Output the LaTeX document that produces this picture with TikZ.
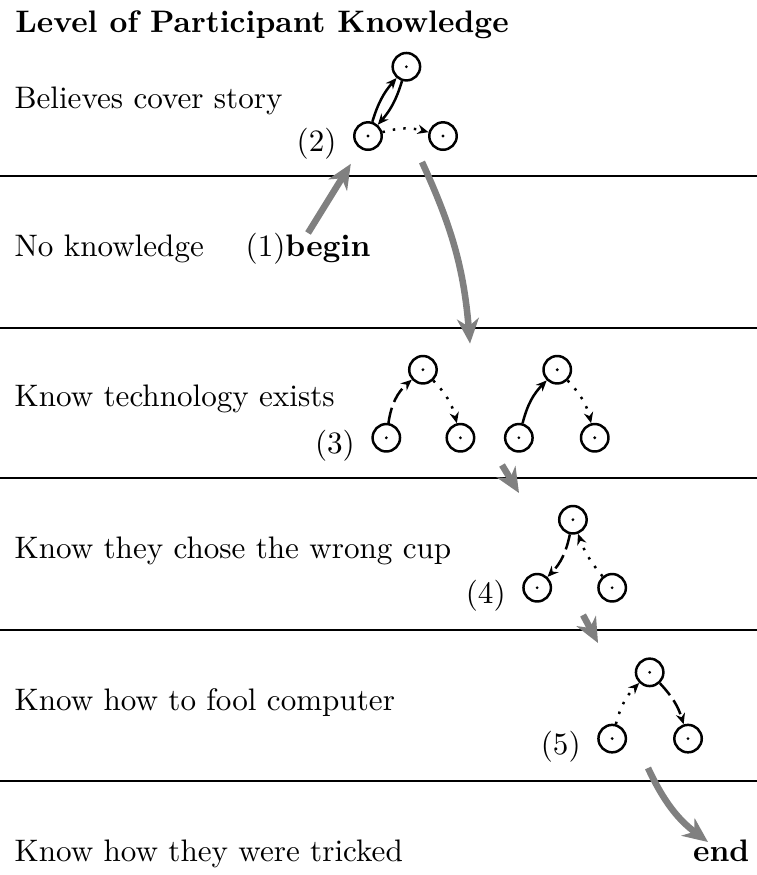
\documentclass[tikz,border=0pt]{standalone}
\usepackage{tikz}
\usetikzlibrary{positioning,arrows.meta}

\begin{document}
\begin{tikzpicture}[
    scale=0.985,
    state/.style={circle, draw, thick, minimum size=0.31cm, inner sep=0pt,
                  path picture={\fill (path picture bounding box.center) circle (0.5pt);}},
    lvl/.style={anchor=base west, inner sep=0pt},
    tag/.style={inner sep=0pt, yshift=-0.09cm},
    sep/.style={semithick},
    arr/.style={-{Stealth[length=3.5pt, width=3pt]}, thick},
    dotarr/.style={arr, dash pattern=on 0.8pt off 2.6pt},
    dasharr/.style={arr, dash pattern=on 5pt off 2pt},
    flow/.style={-{Stealth[length=8pt, width=7pt, inset=2.5pt]}, line width=2.1pt, color=gray}
]
\useasboundingbox (0,0) rectangle (8.68,-10.034);

% Title and knowledge levels
\node[lvl, font=\bfseries] (title) at (0.17,-0.378) {Level of Participant Knowledge};
\node[lvl] (believes)   at (0.16,-1.239) {Believes cover story};
\node[lvl] (noknow)     at (0.16,-2.947) {No knowledge};
\node[lvl] (techexists) at (0.16,-4.667) {Know technology exists};
\node[lvl] (wrongcup)   at (0.16,-6.399) {Know they chose the wrong cup};
\node[lvl] (foolcomp)   at (0.16,-8.142) {Know how to fool computer};
\node[lvl] (tricked)    at (0.16,-9.874) {Know how they were tricked};

% Separators between levels
\draw[sep] (0,-2.018) -- (8.68,-2.018);
\draw[sep] (0,-3.761) -- (8.68,-3.761);
\draw[sep] (0,-5.482) -- (8.68,-5.482);
\draw[sep] (0,-7.225) -- (8.68,-7.225);
\draw[sep] (0,-8.956) -- (8.68,-8.956);

% Start and finish
\node[lvl] (begin) at (2.81,-2.947) {(1)\textbf{begin}};
\node[lvl, anchor=base east] (finish) at (8.60,-9.874) {\textbf{end}};

% (2) cover story
\node[state] (l2t) at (4.66,-0.765) {};
\node[state] (l2a) at (4.22,-1.56) {};
\node[state] (l2b) at (5.08,-1.56) {};
\node[tag, left=0.18cm of l2a] {(2)};
\draw[arr] (l2a) to[bend left=12] (l2t);
\draw[arr] (l2t) to[bend left=12] (l2a);
\draw[dotarr] (l2a) to[bend left=15] (l2b);

% (3) technology exists
\node[state] (l3t) at (4.85,-4.24) {};
\node[state] (l3a) at (4.43,-5.02) {};
\node[state] (l3b) at (5.28,-5.02) {};
\node[state] (l3u) at (6.39,-4.24) {};
\node[state] (l3c) at (5.95,-5.02) {};
\node[state] (l3d) at (6.82,-5.02) {};
\node[tag, left=0.18cm of l3a] {(3)};
\draw[dasharr] (l3a) to[bend left=20] (l3t);
\draw[dotarr] (l3t) to[bend left=15] (l3b);
\draw[arr] (l3c) to[bend left=15] (l3u);
\draw[dotarr] (l3u) to[bend left=15] (l3d);

% (4) wrong cup
\node[state] (l4t) at (6.57,-5.96) {};
\node[state] (l4a) at (6.16,-6.74) {};
\node[state] (l4b) at (7.02,-6.74) {};
\node[tag, left=0.18cm of l4a] {(4)};
\draw[dasharr] (l4t) to[bend left=16] (l4a);
\draw[dotarr] (l4b) to[bend left=10] (l4t);

% (5) fool computer
\node[state] (l5t) at (7.45,-7.71) {};
\node[state] (l5a) at (7.02,-8.47) {};
\node[state] (l5b) at (7.89,-8.47) {};
\node[tag, left=0.18cm of l5a] {(5)};
\draw[dotarr] (l5a) to[bend left=15] (l5t);
\draw[dasharr] (l5t) to[bend left=13] (l5b);

% Progress arrows
\coordinate (d2s) at (4.839,-1.858);
\coordinate (d2e) at (5.39,-3.94);
\coordinate (d3s) at (5.757,-5.333);
\coordinate (d3e) at (5.952,-5.654);
\coordinate (d4s) at (6.686,-7.053);
\coordinate (d4e) at (6.858,-7.374);
\coordinate (d5s) at (7.431,-8.807);
\coordinate (d5e) at (8.119,-9.656);
\draw[flow, shorten >=0.2cm] (begin.north) -- (l2a);
\draw[flow] (d2s) to[bend left=10] (d2e);
\draw[flow] (d3s) -- (d3e);
\draw[flow] (d4s) -- (d4e);
\draw[flow] (d5s) to[bend right=14] (d5e);

\end{tikzpicture}
\end{document}
